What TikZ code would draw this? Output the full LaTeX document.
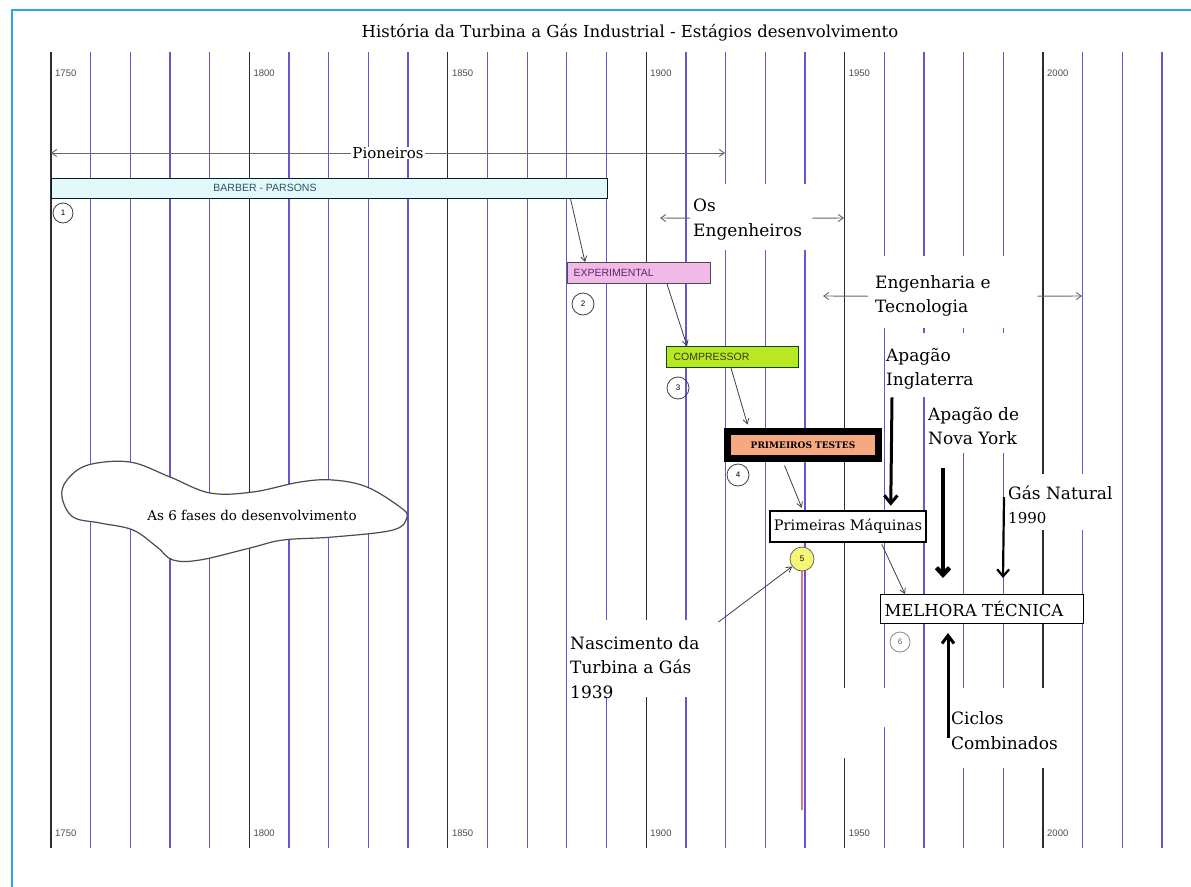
\documentclass[tikz,border=0pt]{standalone}
\usepackage{fontspec}
\setmainfont{DejaVu Serif}
\newfontfamily\sansf{Liberation Sans}
\usetikzlibrary{arrows.meta}
\definecolor{frameblue}{RGB}{40,170,225}
\definecolor{gridpurple}{RGB}{105,85,205}
\definecolor{gridblack}{RGB}{45,45,45}
\definecolor{barberfill}{RGB}{226,248,250}
\definecolor{barbertext}{RGB}{40,85,95}
\definecolor{expfill}{RGB}{240,185,232}
\definecolor{exptext}{RGB}{90,40,100}
\definecolor{compfill}{RGB}{185,232,35}
\definecolor{comptext}{RGB}{50,60,20}
\definecolor{ptfill}{RGB}{246,168,130}
\definecolor{cfivefill}{RGB}{245,245,120}
\definecolor{redline}{RGB}{225,120,135}
\begin{document}
\begin{tikzpicture}[x=1pt,y=-1pt,
  every node/.style={inner sep=0pt},
  txt/.style={font=\fontsize{17}{20}\selectfont, anchor=base west},
  yearlbl/.style={font=\sansf\fontsize{9.5}{10}\selectfont, text=black!70, anchor=west},
  thinarrow/.style={draw=black!75, line width=0.8pt, -{Straight Barb[length=5pt,width=6pt]}},
  spanarrow/.style={draw=black!60, line width=0.9pt, -{Straight Barb[length=5pt,width=7pt]}},
  whitepatch/.style={fill=white, draw=none, anchor=north west},
  stagecircle/.style={circle, draw=black!75, line width=0.8pt, font=\sansf\fontsize{8}{9}\selectfont},
  stagebox/.style={anchor=north west, line width=1pt, align=left, font=\sansf\fontsize{10.5}{12}\selectfont},
]
\useasboundingbox (0,0) rectangle (1191,886);
\fill[white] (0,0) rectangle (1191,886);
% frame
\draw[frameblue, line width=2.5pt] (12,892) -- (12,10) -- (1196,10);
% title
\node[font=\fontsize{16.5}{19}\selectfont] (title) at (630,33) {História da Turbina a Gás Industrial - Estágios desenvolvimento};
% grid
\foreach \i in {0,...,28}{
  \pgfmathsetmacro{\xx}{51+39.68*\i}
  \pgfmathtruncatemacro{\rr}{mod(\i,5)}
  \ifnum\rr=0
    \draw[gridblack, line width=1.3pt] (\xx,52) -- (\xx,848);
  \else
    \draw[gridpurple, line width=1.3pt] (\xx,52) -- (\xx,848);
  \fi
}
\foreach \i/\yr in {0/1750,5/1800,10/1850,15/1900,20/1950,25/2000}{
  \pgfmathsetmacro{\xx}{51+39.68*\i+4}
  \node[yearlbl] (yt\yr) at (\xx,73) {\yr};
  \node[yearlbl] (yb\yr) at (\xx,833) {\yr};
}
% white patches behind texts
\node[whitepatch, minimum width=122pt, minimum height=66pt] (osBox) at (690,184) {};
\node[whitepatch, minimum width=142pt, minimum height=72pt] (engBox) at (868,256) {};
\node[whitepatch, minimum width=118pt, minimum height=64pt] (ingBox) at (888,333) {};
\node[whitepatch, minimum width=86pt, minimum height=56pt] (nyBox) at (926,397) {};
\node[whitepatch, minimum width=94pt, minimum height=56pt] (gasBox) at (1006,474) {};
\node[whitepatch, minimum width=100pt, minimum height=80pt] (ciclosBox) at (950,688) {};
\node[whitepatch, minimum width=153pt, minimum height=77pt] (nascBox) at (569,620) {};
\fill[white] (812,688) -- (892,688) -- (892,727) -- (860,727) -- (860,758) -- (812,758) -- cycle;
% Pioneiros
\coordinate (pionL) at (51,153);
\coordinate (pionR) at (725,153);
\node[fill=white, inner xsep=1pt, font=\fontsize{15}{18}\selectfont] (pion) at (388,153) {Pioneiros};
\draw[spanarrow] (pion.west) -- (pionL);
\draw[spanarrow] (pion.east) -- (pionR);
% Os Engenheiros
\coordinate (osL) at (660,218);
\coordinate (osR) at (844,218);
\draw[spanarrow] ([yshift=-1pt]osBox.west) -- (osL);
\draw[spanarrow] ([yshift=-1pt]osBox.east) -- (osR);
\node[txt] (osT1) at (693,211) {Os};
\node[txt] (osT2) at (693,236) {Engenheiros};
% Engenharia e Tecnologia
\coordinate (engL) at (823,296);
\coordinate (engR) at (1082,296);
\draw[spanarrow] ([yshift=-4pt]engBox.west) -- (engL);
\draw[spanarrow] ([xshift=27pt,yshift=-4pt]engBox.east) -- (engR);
\node[txt] (engT1) at (875,288) {Engenharia e};
\node[txt] (engT2) at (875,312) {Tecnologia};
% stages
\node[draw=black!75!teal, line width=1.2pt, fill=barberfill, anchor=north west, minimum width=556pt, minimum height=20pt] (barber) at (51,178) {};
\node[font=\sansf\fontsize{10.5}{12}\selectfont, text=barbertext] (barberT) at (265,188) {BARBER - PARSONS};
\node[stagebox, draw=black!70, fill=expfill, text=exptext, minimum height=21pt, inner xsep=6pt, text width=131pt] (exp) at (567,262) {EXPERIMENTAL};
\node[stagebox, draw=black!70!green, fill=compfill, text=comptext, minimum height=21pt, inner xsep=7pt, text width=118pt] (comp) at (666,346) {COMPRESSOR};
\node[draw=black, line width=7pt, fill=ptfill, minimum width=151pt, minimum height=27pt, font=\bfseries\fontsize{9}{10}\selectfont] (pt) at (803,445) {PRIMEIROS TESTES};
\node[draw=black, line width=2.5pt, fill=white, minimum width=156pt, minimum height=31pt, font=\fontsize{14.5}{17}\selectfont] (primM) at (848,526.5) {Primeiras Máquinas};
\node[draw=black, line width=1pt, fill=white, anchor=north west, minimum height=29pt, inner xsep=4pt, text width=195pt, align=left, font=\fontsize{16.5}{19}\selectfont] (melhora) at (880,594) {MELHORA TÉCNICA};
% circles
\node[stagecircle, minimum size=20pt] (c1) at (63,213) {1};
\node[stagecircle, minimum size=22pt] (c2) at (583,304) {2};
\node[stagecircle, minimum size=22pt] (c3) at (678,388) {3};
\node[stagecircle, minimum size=22pt] (c4) at (738,475) {4};
\coordinate (redEnd) at (802,810);
\draw[redline, line width=2pt] (802,565) -- (redEnd);
\node[stagecircle, minimum size=24pt, fill=cfivefill, draw=black!60] (c5) at (802,559) {5};
\node[stagecircle, minimum size=20pt, draw=black!45, text=black!60] (c6) at (900,642) {6};
% stage arrows
\draw[thinarrow] ([xshift=241pt]barber.south) -- ([xshift=18pt]exp.north west);
\draw[thinarrow] ([xshift=100pt]exp.south west) -- ([xshift=21pt]comp.north west);
\draw[thinarrow] ([xshift=65pt]comp.south west) -- ([xshift=23.5pt,yshift=3.5pt]pt.north west);
\draw[thinarrow] ([xshift=60.5pt,yshift=-3.5pt]pt.south west) -- ([xshift=33pt,yshift=2pt]primM.north west);
\draw[thinarrow] ([xshift=113pt,yshift=-1pt]primM.south west) -- ([xshift=25pt]melhora.north west);
% Nascimento
\node[txt] (nascT1) at (570,649) {Nascimento da};
\node[txt] (nascT2) at (570,673) {Turbina a Gás};
\node[txt] (nascT3) at (570,698) {1939};
\draw[thinarrow] ([xshift=-4pt,yshift=-2pt]nascBox.north east) -- (c5);
% Apagão Inglaterra
\node[txt] (ingT1) at (886,361) {Apagão};
\node[txt] (ingT2) at (886,385) {Inglaterra};
\draw[line width=3pt, -{Straight Barb[length=8pt,width=13pt]}] ([xshift=4pt]ingBox.south west) -- ([xshift=122pt,yshift=4pt]primM.north west);
% Apagão de Nova York
\node[txt] (nyT1) at (928,420) {Apagão de};
\node[txt] (nyT2) at (928,444) {Nova York};
\draw[line width=4.5pt, -{Straight Barb[length=7pt,width=13pt]}] ([xshift=17pt,yshift=-15pt]nyBox.south west) -- ([xshift=63pt,yshift=16pt]melhora.north west);
% Gás Natural
\node[txt] (gasT1) at (1008,499) {Gás Natural};
\node[txt, font=\fontsize{15}{18}\selectfont] (gasT2) at (1008,523) {1990};
\draw[line width=2.2pt, -{Straight Barb[length=7pt,width=12pt]}] ([xshift=-2pt,yshift=-23pt]gasBox.north west) -- ([xshift=123pt,yshift=16pt]melhora.north west);
% Ciclos Combinados
\node[txt] (cicT1) at (951,724) {Ciclos};
\node[txt] (cicT2) at (951,749) {Combinados};
\draw[line width=3pt, -{Straight Barb[length=8pt,width=12pt]}] ([xshift=-2pt,yshift=-10pt]ciclosBox.west) -- ([xshift=68pt,yshift=-9pt]melhora.south west);
% cloud
\draw[black!70, line width=1.2pt, fill=white] plot[smooth cycle, tension=0.6] coordinates {(88,465) (130,462) (170,477) (210,493) (253,492) (300,482) (333,480) (367,487) (400,507) (407,517) (393,530) (333,537) (283,540) (250,548) (200,560) (173,560) (157,547) (133,530) (100,523) (73,517) (62,497) (67,480)};
\node[font=\fontsize{13.5}{16}\selectfont] (cloudT) at (252,515) {As 6 fases do desenvolvimento};
\end{tikzpicture}
\end{document}
